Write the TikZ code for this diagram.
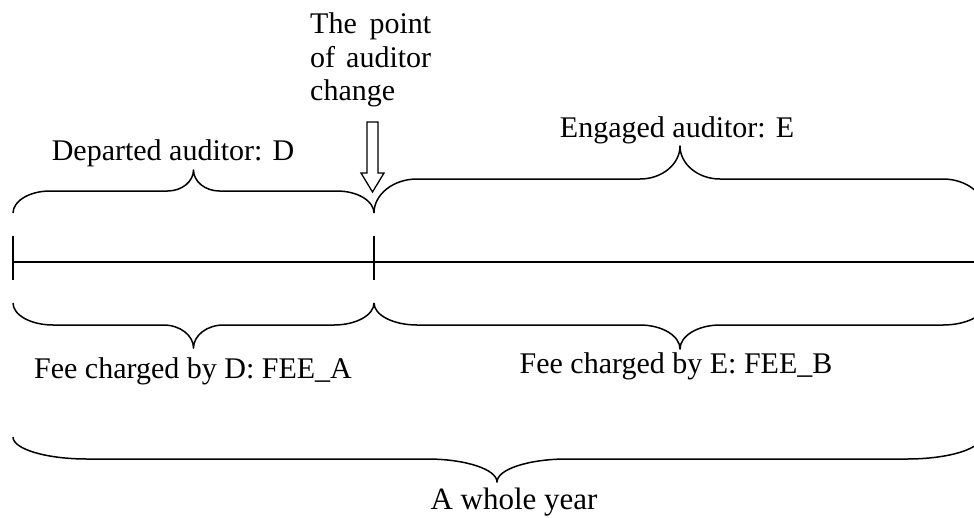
\documentclass[tikz,border=0pt]{standalone}
\usepackage{fontspec}
\setmainfont{Liberation Serif}
\newcommand\mybrace[7]{% x1 x2 yend yflat ytip rend rtip
  \pgfmathsetmacro\bxm{(#1+#2)/2}%
  \pgfmathsetmacro\bya{#3+0.55*(#4-#3)}%
  \pgfmathsetmacro\byb{#4+0.45*(#5-#4)}%
  \draw[bracestyle] (#1,#3) .. controls (#1,\bya) and ({#1+0.45*#6},#4) .. ({#1+#6},#4)
    -- ({\bxm-#7},#4) .. controls ({\bxm-0.45*#7},#4) and (\bxm,\byb) .. (\bxm,#5)
    .. controls (\bxm,\byb) and ({\bxm+0.45*#7},#4) .. ({\bxm+#7},#4)
    -- ({#2-#6},#4) .. controls ({#2-0.45*#6},#4) and (#2,\bya) .. (#2,#3);
}
\tikzset{
  bracestyle/.style={line width=1.5pt, line join=round},
  rule/.style={line width=1.5pt},
  lbl/.style={inner sep=0pt, font=\fontsize{30}{33}\selectfont},
}
\begin{document}
\begin{tikzpicture}[x=1pt,y=-1pt]
\useasboundingbox (0,0) rectangle (974,517);
\clip (0,0) rectangle (974,517);
% time line and ticks
\coordinate (ls) at (13,262);
\coordinate (le) at (974,262);
\coordinate (t1a) at (13,236); \coordinate (t1b) at (13,280);
\coordinate (t2a) at (374,236); \coordinate (t2b) at (374,280);
\draw[rule] (ls) -- (le);
\draw[rule] (t1a) -- (t1b);
\draw[rule] (t2a) -- (t2b);
% braces
\mybrace{13}{374}{213}{191}{170}{37}{26}
\mybrace{374}{986}{213}{179}{146}{43}{40}
\mybrace{13}{374}{303}{325}{348}{40}{30}
\mybrace{374}{986}{303}{325}{349}{43}{40}
\mybrace{13}{981}{437}{459}{482}{74}{70}
% hollow arrow
\draw[line width=1.3pt, line join=miter, fill=white] (367,122) -- (378,122) -- (378,173) -- (384,173) -- (372.5,192) -- (361,173) -- (367,173) -- cycle;
% texts
\node[lbl, anchor=base west] (tp1) at (310,33) {\makebox[121pt][s]{The point}};
\node[lbl, anchor=base west] (tp2) at (310,67) {\makebox[121pt][s]{of auditor}};
\node[lbl, anchor=base west] (tp3) at (310,100) {change};
\node[lbl, anchor=base] (dep) at (173,160) {Departed auditor: D};
\node[lbl, anchor=base] (eng) at (677,137) {Engaged auditor: E};
\node[lbl, anchor=base] (fa) at (193,378) {Fee charged by D: FEE\_A};
\node[lbl, anchor=base] (fb) at (676,373) {Fee charged by E: FEE\_B};
\node[lbl, anchor=base, font=\fontsize{31}{33}\selectfont] (yr) at (514,509) {A whole year};
\end{tikzpicture}
\end{document}
